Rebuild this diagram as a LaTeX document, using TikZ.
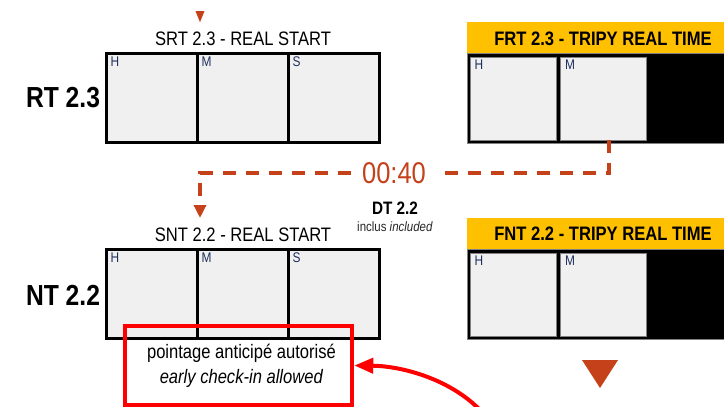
\documentclass[tikz,border=0pt]{standalone}
\usepackage{fontspec}
\setmainfont[FakeStretch=0.85]{Liberation Sans}
\usetikzlibrary{arrows.meta,positioning}
\definecolor{tripyellow}{HTML}{FFC000}
\definecolor{cellgrey}{HTML}{F0F0F0}
\definecolor{rust}{HTML}{C4411A}
\definecolor{navy}{HTML}{1F2F5F}
\newcommand{\fsz}[2]{\fontsize{#1}{#2}\selectfont}
\begin{document}
\begin{tikzpicture}[x=1pt,y=-1pt,
  cell/.style={draw=black,line width=3pt,fill=cellgrey,minimum width=91pt,
    minimum height=89pt,inner sep=0pt,outer sep=0pt},
  tcell/.style={draw=gray,line width=0.8pt,fill=cellgrey,minimum width=86pt,
    minimum height=83pt,inner sep=0pt,outer sep=0pt},
  unit/.style={label={[anchor=north west,inner xsep=4.5pt,inner ysep=3pt,
    text=navy,font=\fsz{14}{16}]north west:#1}},
  banner/.style={fill=tripyellow,minimum width=260pt,minimum height=31pt,
    anchor=north west,inner sep=0pt},
  darkbox/.style={fill=black,draw=gray,minimum width=260pt,minimum height=90pt,
    anchor=north west,inner sep=0pt},
  dashline/.style={rust,line width=4pt,dash pattern=on 13pt off 10pt}]
  \useasboundingbox (0,0) rectangle (724,407);
  % real time 2.3
  \node[font=\bfseries\fsz{29}{34}] (rt) at (63,98) {RT 2.3};
  \node[font=\fsz{19.5}{23}] (srt) at (243,39) {SRT 2.3 - REAL START};
  \node[cell,unit=H] (h23) at (151.5,98) {};
  \node[cell,unit=M] (m23) at (242.5,98) {};
  \node[cell,unit=S] (s23) at (333.5,98) {};
  \node[banner] (frtbar) at (467,22) {};
  \node[font=\bfseries\fsz{19.5}{23}] (frt) at (603,38.5) {FRT 2.3 - TRIPY REAL TIME};
  \node[darkbox] (frtbox) at (467,53) {};
  \node[tcell,unit=H] (fh23) at (513,98.5) {};
  \node[tcell,unit=M] (fm23) at (603.5,98.5) {};
  % next time 2.2
  \node[font=\bfseries\fsz{29}{34}] (nt) at (63,295) {NT 2.2};
  \node[font=\fsz{19.5}{23}] (snt) at (243,235) {SNT 2.2 - REAL START};
  \node[cell,unit=H] (h22) at (151.5,294) {};
  \node[cell,unit=M] (m22) at (242.5,294) {};
  \node[cell,unit=S] (s22) at (333.5,294) {};
  \node[banner] (fntbar) at (467,218) {};
  \node[font=\bfseries\fsz{19.5}{23}] (fnt) at (603,233.5) {FNT 2.2 - TRIPY REAL TIME};
  \node[darkbox] (fntbox) at (467,249) {};
  \node[tcell,unit=H] (fh22) at (513,294.5) {};
  \node[tcell,unit=M] (fm22) at (603.5,294.5) {};
  % gap between the two
  \node[text=rust,font=\fsz{30}{36},inner xsep=11pt,inner ysep=0pt] (gap) at (394,173) {00:40};
  \node[font=\bfseries\fsz{18}{21}] (dt) at (395,208) {DT 2.2};
  \node[font=\fsz{13.5}{16},text=black!85] (incl) at (395,227) {inclus \textit{included}};
  \coordinate (prevtop) at (200,11);
  \coordinate (prevtip) at (200,23);
  \coordinate (nexttip) at (200,218);
  \draw[rust,line width=3pt,-{Triangle[length=12pt,width=8pt]}] (prevtop) -- (prevtip);
  \draw[dashline] ([xshift=5.5pt]fm23.south) |- (gap.east);
  \draw[dashline,-{Triangle[length=13pt,width=12pt]}] (gap.west) -| (nexttip);
  \fill[rust] (582,360) -- (618,360) -- (600,388) -- cycle;
  % early check-in
  \node[draw=red,line width=4.5pt,minimum width=227pt,minimum height=79pt,
    align=center,font=\fsz{19.5}{25},inner sep=0pt] (early) at (238.5,365.5)
    {\hspace*{6pt}pointage anticipé autorisé\\\hspace*{6pt}\textit{early check-in allowed}};
  \coordinate (redstart) at (482,412);
  \draw[red,line width=4pt,-{Triangle[length=19pt,width=15pt]}] (redstart)
    .. controls (450,378) and (400,366) .. (early.east);
\end{tikzpicture}
\end{document}
